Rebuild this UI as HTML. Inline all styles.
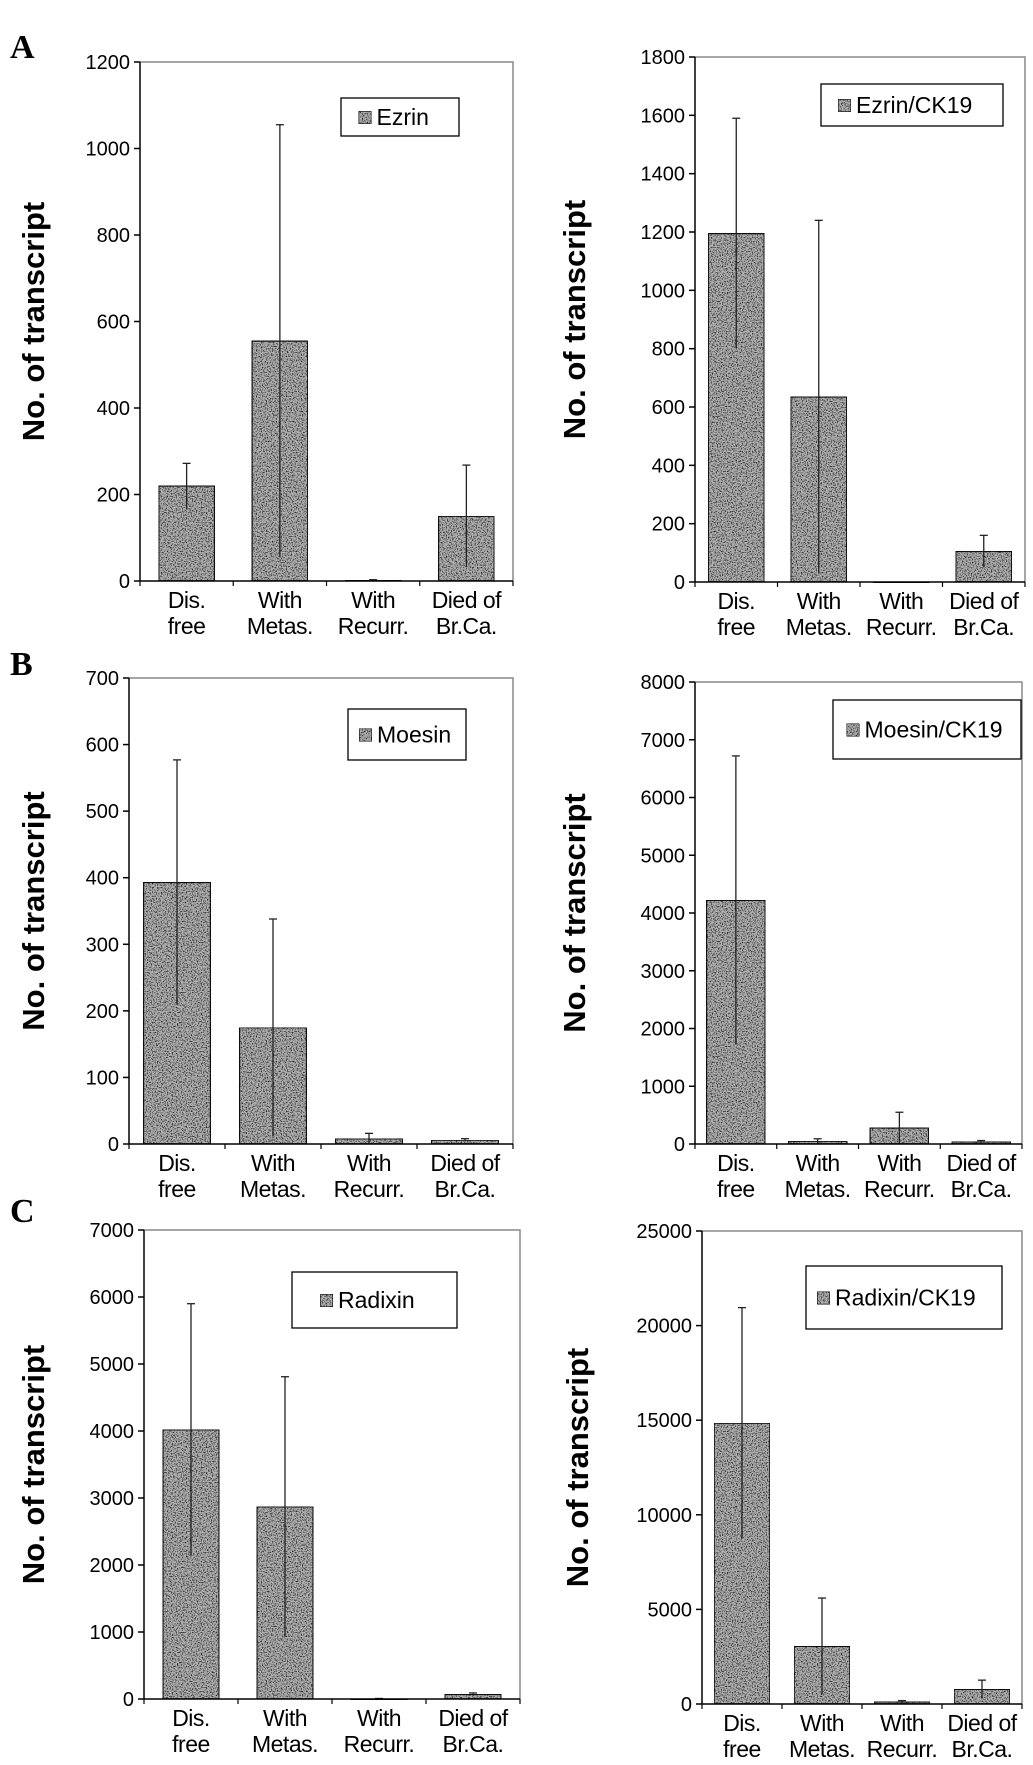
<!DOCTYPE html>
<html><head><meta charset="utf-8"><style>
html,body{margin:0;padding:0;background:#fff;}
svg{display:block;}
text{font-family:"Liberation Sans",sans-serif;fill:#000;}
</style></head><body>
<svg id="fig" width="1033" height="1765" viewBox="0 0 1033 1765">
<defs>
<filter id="noise" x="0" y="0" width="1" height="1">
<feTurbulence type="fractalNoise" baseFrequency="0.8" numOctaves="2" seed="3" result="t"/>
<feColorMatrix in="t" type="matrix" values="0 0 0 0 0  0 0 0 0 0  0 0 0 0 0  0 0 0 -4 2.25" result="a"/>
<feFlood flood-color="#222" result="f"/>
<feComposite in="f" in2="a" operator="in" result="dots"/>
<feComposite in="dots" in2="SourceGraphic" operator="in" result="d2"/>
<feMerge><feMergeNode in="SourceGraphic"/><feMergeNode in="d2"/></feMerge>
</filter>
</defs>
<text x="10" y="58" style="font-family:'Liberation Serif',serif;font-weight:bold;font-size:34px">A</text>
<text x="10" y="675" style="font-family:'Liberation Serif',serif;font-weight:bold;font-size:34px">B</text>
<text x="10" y="1222" style="font-family:'Liberation Serif',serif;font-weight:bold;font-size:34px">C</text>
</svg>
<script>
const categories = [["Dis.","free"],["With","Metas."],["With","Recurr."],["Died of","Br.Ca."]];
const ezrinValues = [220, 555, 2, 150];
const ezrinErrors = [52, 500, 1, 118];
const ezrinTicks = [0,200,400,600,800,1000,1200];
const ezrinCk19Values = [1195, 635, 0, 105];
const ezrinCk19Errors = [395, 605, 0, 55];
const ezrinCk19Ticks = [0,200,400,600,800,1000,1200,1400,1600,1800];
const moesinValues = [393, 175, 8, 6];
const moesinErrors = [184, 163, 8, 2];
const moesinTicks = [0,100,200,300,400,500,600,700];
const moesinCk19Values = [4220, 50, 280, 40];
const moesinCk19Errors = [2500, 40, 270, 20];
const moesinCk19Ticks = [0,1000,2000,3000,4000,5000,6000,7000,8000];
const radixinValues = [4020, 2870, 5, 70];
const radixinErrors = [1880, 1940, 3, 20];
const radixinTicks = [0,1000,2000,3000,4000,5000,6000,7000];
const radixinCk19Values = [14850, 3050, 120, 780];
const radixinCk19Errors = [6100, 2550, 60, 480];
const radixinCk19Ticks = [0,5000,10000,15000,20000,25000];

const NS = "http://www.w3.org/2000/svg";
const svg = document.getElementById('fig');
function mk(tag, attrs, parent){ const e=document.createElementNS(NS,tag); for(const k in attrs) e.setAttribute(k,attrs[k]); (parent||svg).appendChild(e); return e; }

function panel(cfg, values, errors, ticks){
  const g = mk('g',{});
  
  
  const max = ticks[ticks.length-1];
  const y = v => cfg.bottom - (v/max)*(cfg.bottom-cfg.top);
  const gw = (cfg.right-cfg.left)/categories.length;
  const xc = i => cfg.left + gw*(i+0.5);
  mk('polyline',{points:`${cfg.left},${cfg.top} ${cfg.right},${cfg.top} ${cfg.right},${cfg.bottom}`,fill:'none',stroke:'#888','stroke-width':1.5},g);
  const ya = mk('line',{x1:cfg.left,y1:cfg.top,x2:cfg.left,y2:cfg.bottom,stroke:'#000','stroke-width':1.5},g);
  
  
  ticks.forEach(t=>{
    mk('line',{x1:cfg.left-6,y1:y(t),x2:cfg.left,y2:y(t),stroke:'#000','stroke-width':1.5},g);
    const tx = mk('text',{x:cfg.left-10,y:y(t)+7,'text-anchor':'end','font-size':20},g);
    tx.textContent = t;
    
    
  });
  values.forEach((v,i)=>{
    const bw = gw*cfg.bw;
    const r = mk('rect',{x:xc(i)-bw/2,y:y(v),width:bw,height:Math.max(cfg.bottom-y(v),1),fill:'#b4b4b4',stroke:'#000','stroke-width':1.5,filter:'url(#noise)'},g);
    
    
    const e = errors[i];
    if(e>0){
      const l = mk('line',{x1:xc(i),y1:y(v+e),x2:xc(i),y2:y(Math.max(v-e,0)),stroke:'#222','stroke-width':1.3},g);
      
      
      mk('line',{x1:xc(i)-4,y1:y(v+e),x2:xc(i)+4,y2:y(v+e),stroke:'#222','stroke-width':1.3},g);
    }
  });
  const xa = mk('line',{x1:cfg.left,y1:cfg.bottom,x2:cfg.right,y2:cfg.bottom,stroke:'#000','stroke-width':1.5},g);
  
  
  for(let i=0;i<=categories.length;i++){
    mk('line',{x1:cfg.left+gw*i,y1:cfg.bottom,x2:cfg.left+gw*i,y2:cfg.bottom+5,stroke:'#000','stroke-width':1.2},g);
  }
  categories.forEach((c,i)=>{
    c.forEach((s,j)=>{
      const tx = mk('text',{x:xc(i),y:cfg.bottom+27+j*26,'text-anchor':'middle','font-size':23,'letter-spacing':'-0.5'},g);
      tx.textContent = s;
      
      
    });
  });
  const cy = (cfg.top+cfg.bottom)/2;
  const yt = mk('text',{x:cfg.titleX,y:cy,'text-anchor':'middle','font-size':31,'font-weight':'bold',transform:`rotate(-90 ${cfg.titleX} ${cy})`},g);
  yt.textContent = 'No. of transcript';
  
  
  const L = cfg.legend;
  const lg = mk('g',{},g);
  
  
  mk('rect',{x:L[0],y:L[1],width:L[2]-L[0],height:L[3]-L[1],fill:'#fff',stroke:'#000','stroke-width':1.3},lg);
  const lh = (L[1]+L[3])/2;
  const tw = cfg.label.length*13 + 18;
  const sx = Math.max(L[0]+5,(L[0]+L[2])/2 - tw/2);
  mk('rect',{x:sx,y:lh-6,width:13,height:13,fill:'#b4b4b4',stroke:'#000','stroke-width':1.2,filter:'url(#noise)'},lg);
  const lt = mk('text',{x:sx+18,y:lh+8,'font-size':23},lg);
  lt.textContent = cfg.label;
  
  
}

panel({name:'chart-ezrin',left:140,right:513,top:62,bottom:581,bw:0.6,titleX:44,legend:[341,98,459,136],label:'Ezrin'}, ezrinValues, ezrinErrors, ezrinTicks);
panel({name:'chart-ezrin-ck19',left:695,right:1025,top:57,bottom:582,bw:0.68,titleX:585,legend:[821,84,1003,126],label:'Ezrin/CK19'}, ezrinCk19Values, ezrinCk19Errors, ezrinCk19Ticks);
panel({name:'chart-moesin',left:129,right:513,top:678,bottom:1144,bw:0.7,titleX:44,legend:[348,709,466,760],label:'Moesin'}, moesinValues, moesinErrors, moesinTicks);
panel({name:'chart-moesin-ck19',left:695,right:1022,top:682,bottom:1144,bw:0.72,titleX:585,legend:[833,700,1021,759],label:'Moesin/CK19'}, moesinCk19Values, moesinCk19Errors, moesinCk19Ticks);
panel({name:'chart-radixin',left:144,right:520,top:1230,bottom:1699,bw:0.6,titleX:44,legend:[292,1272,457,1328],label:'Radixin'}, radixinValues, radixinErrors, radixinTicks);
panel({name:'chart-radixin-ck19',left:702,right:1022,top:1231,bottom:1704,bw:0.7,titleX:588,legend:[806,1266,1002,1329],label:'Radixin/CK19'}, radixinCk19Values, radixinCk19Errors, radixinCk19Ticks);
</script>
</body></html>
